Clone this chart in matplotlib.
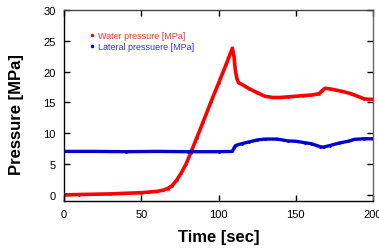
import matplotlib
matplotlib.use("Agg")
import matplotlib.pyplot as plt
import numpy as np

plt.rcParams['font.family'] = ['Liberation Sans', 'DejaVu Sans']

# water pressure readings
t_water = [0, 10, 20, 30, 40, 50, 55, 60, 64, 67, 70, 73, 76, 79, 82, 86, 90, 95, 100, 105, 109,
           110, 111, 112, 113, 116, 120, 125, 130, 135, 140, 145, 150, 155, 160, 165, 167, 169,
           172, 176, 180, 186, 190, 194, 197, 200]
p_water = [0.0, 0.05, 0.1, 0.15, 0.25, 0.35, 0.45, 0.55, 0.75, 1.0, 1.5, 2.4, 3.6, 5.0, 6.8, 9.3, 11.8,
           15.0, 18.1, 21.2, 23.8, 22.5, 20.0, 18.8, 18.2, 17.8, 17.2, 16.6, 16.0, 15.8, 15.8, 15.9,
           16.0, 16.1, 16.2, 16.4, 16.9, 17.3, 17.2, 17.0, 16.8, 16.4, 16.0, 15.6, 15.5, 15.5]

# lateral pressure readings
t_lat = [0, 20, 40, 60, 80, 100, 109, 110, 111, 115, 120, 125, 130, 138, 145, 150, 156, 160, 166,
         168, 172, 178, 184, 188, 194, 200]
p_lat = [7.05, 7.05, 7.0, 7.05, 7.0, 7.0, 7.05, 7.6, 8.0, 8.3, 8.6, 8.9, 9.05, 9.05, 8.75, 8.7, 8.45,
         8.3, 7.8, 7.75, 8.0, 8.4, 8.7, 9.0, 9.1, 9.1]

fig = plt.figure(figsize=(3.79, 2.51), dpi=100)
ax = fig.add_axes([64/379, 49/251, 309/379, 191/251])

ax.plot(t_water, p_water, color='#ff0000', lw=2.6, marker='.', ms=2, label='Water pressure [MPa]')
ax.plot(t_lat, p_lat, color='#0000d0', lw=2.4, marker='.', ms=2, label='Lateral pressuere [MPa]')

ax.set_xlim(0, 200)
ax.set_ylim(-1, 30)
ax.set_xticks([0, 50, 100, 150, 200])
ax.set_yticks([0, 5, 10, 15, 20, 25, 30])
ax.tick_params(direction='in', length=4, width=1, top=True, right=True, labelsize=8, pad=6)
for s in ax.spines.values():
    s.set_linewidth(1)
ax.spines['right'].set_color('#666666')
ax.spines['top'].set_color('#444444')

ax.set_xlabel('Time [sec]', fontsize=12, fontweight='bold', labelpad=7)
ax.set_ylabel('Pressure [MPa]', fontsize=12, fontweight='bold')
ax.yaxis.set_label_coords(-0.13, 0.46)

leg = ax.legend(loc='upper left', bbox_to_anchor=(0.07, 0.915), frameon=False, fontsize=6.5,
                markerscale=1.5, handlelength=0.4, handletextpad=0.5, labelspacing=0.3, borderpad=0)
for h in leg.legend_handles:
    h.set_linestyle('none')
for txt, col in zip(leg.get_texts(), ['#ff3030', '#3030ff']):
    txt.set_color(col)

fig.savefig('out.png', dpi=100)
